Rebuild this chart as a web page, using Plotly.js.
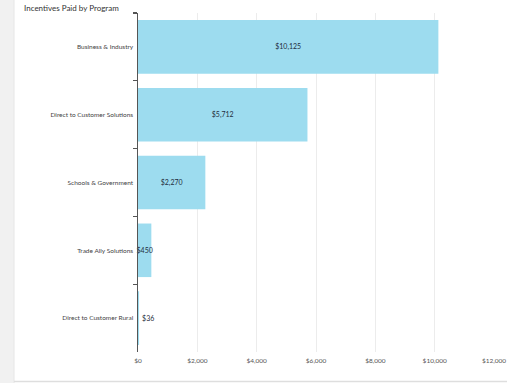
<!DOCTYPE html>
<html>
<head>
<meta charset="utf-8">
<script src="https://cdn.plot.ly/plotly-3.0.1.min.js"></script>
<style>html,body{margin:0;padding:0;background:#fff;}#chart{width:507px;height:383px;}</style>
</head>
<body>
<div id="chart"></div>
<script>
const programs = ["Business & Industry", "Direct to Customer Solutions", "Schools & Government", "Trade Ally Solutions", "Direct to Customer Rural"];
const incentives = [10125, 5712, 2270, 450, 36];
const tickValues = [0, 2000, 4000, 6000, 8000, 10000, 12000];
const tickLabels = ["$0", "$2,000", "$4,000", "$6,000", "$8,000", "$10,000", "$12,000"];
const chartTitle = "Incentives Paid by Program";

const W = 507, H = 383, L = 138, R = 13, T = 13, B = 31;
const pw = W - L - R, ph = H - T - B;
const px = v => (v - L) / pw;
const py = v => (H - B - v) / ph;

const valueFont = {family: 'Lato, sans-serif', size: 7, color: '#1f2d3d'};

const trace = {
  type: 'bar',
  orientation: 'h',
  y: programs,
  x: incentives,
  width: 0.79,
  marker: {color: '#9ddcef', line: {width: 0}},
  text: incentives.map(v => '$' + v.toLocaleString('en-US')),
  textposition: incentives.map(v => v < 100 ? 'outside' : 'inside'),
  insidetextanchor: 'middle',
  textangle: 0,
  constraintext: 'none',
  textfont: valueFont,
  insidetextfont: valueFont,
  outsidetextfont: valueFont,
  cliponaxis: false,
  hoverinfo: 'none'
};

const layout = {
  width: W, height: H,
  margin: {l: L, r: R, t: T, b: B, pad: 0},
  paper_bgcolor: '#ffffff',
  plot_bgcolor: '#ffffff',
  showlegend: false,
  xaxis: {
    range: [0, 12000],
    tickvals: tickValues,
    ticktext: tickLabels,
    showgrid: true,
    gridcolor: '#ececec',
    gridwidth: 1,
    zeroline: false,
    showline: false,
    ticks: '',
    ticklabelstandoff: 3,
    tickfont: {family: 'Lato, sans-serif', size: 6.5, color: '#555'},
    fixedrange: true
  },
  yaxis: {
    autorange: 'reversed',
    type: 'category',
    showline: true,
    linecolor: '#555',
    linewidth: 1.5,
    ticks: 'outside',
    tickson: 'boundaries',
    ticklen: 4,
    tickcolor: '#555',
    tickwidth: 1.2,
    showgrid: false,
    zeroline: false,
    tickfont: {family: 'Lato, sans-serif', size: 6.5, color: '#444'},
    ticklabelstandoff: 2,
    fixedrange: true
  },
  shapes: [
    {type: 'rect', xref: 'paper', yref: 'paper', x0: px(0), x1: px(14), y0: py(383), y1: py(-5), fillcolor: '#f1f1f1', line: {width: 0}, layer: 'below'},
    {type: 'line', xref: 'paper', yref: 'paper', x0: px(14), x1: px(14), y0: py(383), y1: py(-5), line: {color: '#e6e6e6', width: 1}},
    {type: 'line', xref: 'paper', yref: 'paper', x0: px(14), x1: px(507), y0: py(381.5), y1: py(381.5), line: {color: '#dedede', width: 1.5}}
  ],
  annotations: [
    {text: chartTitle, xref: 'paper', yref: 'paper', x: px(22), y: py(1), xanchor: 'left', yanchor: 'top', showarrow: false, font: {family: 'Lato, sans-serif', size: 8, color: '#333'}}
  ]
};

Plotly.newPlot('chart', [trace], layout, {displayModeBar: false, staticPlot: true});
</script>
</body>
</html>
